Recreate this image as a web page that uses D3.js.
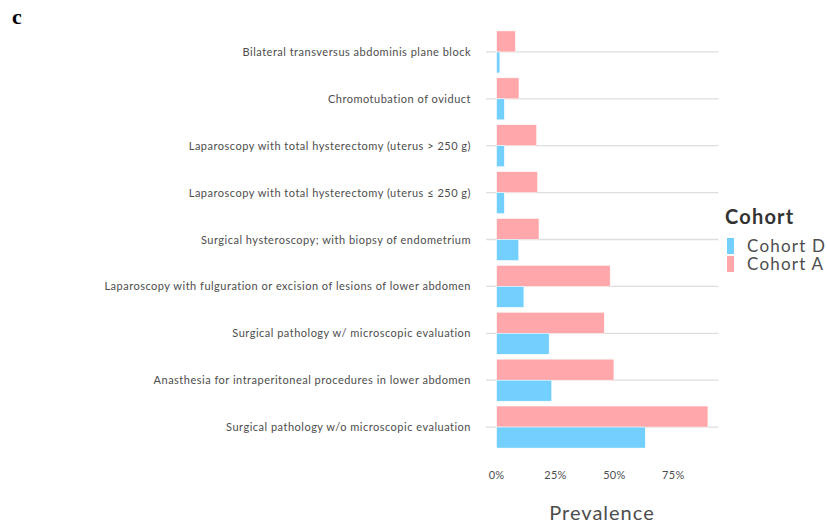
<!DOCTYPE html>
<html>
<head>
<meta charset="utf-8">
<script src="https://cdn.jsdelivr.net/npm/d3@7"></script>
<style>
  body { margin: 0; background: #fff; }
  svg { display: block; font-family: Lato, "Open Sans", sans-serif; }
</style>
</head>
<body>
<div id="chart"></div>
<script>
// データ---------------------------------------------------------------
const categories = [
  'Bilateral transversus abdominis plane block',
  'Chromotubation of oviduct',
  'Laparoscopy with total hysterectomy (uterus > 250 g)',
  'Laparoscopy with total hysterectomy (uterus \u2264 250 g)',
  'Surgical hysteroscopy; with biopsy of endometrium',
  'Laparoscopy with fulguration or excision of lesions of lower abdomen',
  'Surgical pathology w/ microscopic evaluation',
  'Anasthesia for intraperitoneal procedures in lower abdomen',
  'Surgical pathology w/o microscopic evaluation'
];
const cohortA = [0.080, 0.095, 0.170, 0.174, 0.180, 0.482, 0.457, 0.498, 0.897];
const cohortD = [0.014, 0.033, 0.033, 0.033, 0.094, 0.116, 0.223, 0.234, 0.631];
const xTicks = [0, 0.25, 0.5, 0.75];
const seriesNames = ['Cohort D', 'Cohort A'];
const colors = { 'Cohort D': '#73cffd', 'Cohort A': '#ffa7aa' };

// SVG領域----------------------------------------------------------------
const width = 827, height = 524;
const svg = d3.select('#chart').append('svg')
  .attr('width', width)
  .attr('height', height);

// スケール---------------------------------------------------------------
const maxV = d3.max(cohortA.concat(cohortD));
const pad = maxV * 0.05;
const xScale = d3.scaleLinear()
  .domain([-pad, maxV + pad])
  .range([486, 718.5]);
const yScale = d3.scaleBand()
  .domain(categories)
  .range([28.5, 450.5]);
const bw = 21;

// グリッド線----------------------------------------------------------------
svg.append('g')
  .selectAll('line')
  .data(categories)
  .enter()
  .append('line')
  .attr('x1', xScale.range()[0])
  .attr('x2', xScale.range()[1])
  .attr('y1', d => yScale(d) + yScale.bandwidth() / 2)
  .attr('y2', d => yScale(d) + yScale.bandwidth() / 2)
  .attr('stroke', '#dedede')
  .attr('stroke-width', 1.3);

// 棒グラフ--------------------------------------------------------------------
const rows = categories.map((c, i) => ({ cat: c, a: cohortA[i], d: cohortD[i] }));
svg.append('g')
  .selectAll('rect')
  .data(rows)
  .enter()
  .append('rect')
  .attr('x', xScale(0))
  .attr('y', d => yScale(d.cat) + yScale.bandwidth() / 2 - bw)
  .attr('width', d => xScale(d.a) - xScale(0))
  .attr('height', bw)
  .attr('fill', colors['Cohort A'])
  .attr('stroke', '#fff')
  .attr('stroke-width', 0.5);
svg.append('g')
  .selectAll('rect')
  .data(rows)
  .enter()
  .append('rect')
  .attr('x', xScale(0))
  .attr('y', d => yScale(d.cat) + yScale.bandwidth() / 2)
  .attr('width', d => xScale(d.d) - xScale(0))
  .attr('height', bw)
  .attr('fill', colors['Cohort D'])
  .attr('stroke', '#fff')
  .attr('stroke-width', 0.5);

// 軸ラベル-------------------------------------------------------------------
svg.append('g')
  .selectAll('text')
  .data(categories)
  .enter()
  .append('text')
  .attr('x', 471)
  .attr('y', d => yScale(d) + yScale.bandwidth() / 2 + 4)
  .attr('text-anchor', 'end')
  .attr('font-size', '11px')
  .attr('letter-spacing', '0.5px')
  .attr('fill', '#4d4d4d')
  .text(d => d);

svg.append('g')
  .selectAll('text')
  .data(xTicks)
  .enter()
  .append('text')
  .attr('x', d => xScale(d))
  .attr('y', 479)
  .attr('text-anchor', 'middle')
  .attr('font-size', '11px')
  .attr('letter-spacing', '0.3px')
  .attr('fill', '#4d4d4d')
  .text(d => d3.format('.0%')(d));

svg.append('text')
  .attr('x', 602)
  .attr('y', 520)
  .attr('text-anchor', 'middle')
  .attr('font-size', '20px')
  .attr('letter-spacing', '1px')
  .attr('fill', '#4d4d4d')
  .text('Prevalence');

// 凡例-----------------------------------------------------------------------
svg.append('text')
  .attr('x', 725)
  .attr('y', 224)
  .attr('font-size', '20px')
  .attr('font-weight', 'bold')
  .attr('letter-spacing', '1.2px')
  .attr('fill', '#333')
  .text('Cohort');
const leg = svg.append('g')
  .selectAll('g')
  .data(seriesNames)
  .enter()
  .append('g')
  .attr('transform', (d, i) => 'translate(727,' + (238 + i * 18) + ')');
leg.append('rect')
  .attr('width', 7)
  .attr('height', 16)
  .attr('fill', d => colors[d]);
leg.append('text')
  .attr('x', 20)
  .attr('y', 14)
  .attr('font-size', '17px')
  .attr('letter-spacing', '1.2px')
  .attr('fill', '#4d4d4d')
  .text(d => d);

// パネル記号---------------------------------------------------------------
svg.append('text')
  .attr('x', 12)
  .attr('y', 24)
  .attr('font-family', '"Liberation Serif", serif')
  .attr('font-weight', 'bold')
  .attr('font-size', '22px')
  .text('c');
</script>
</body>
</html>
